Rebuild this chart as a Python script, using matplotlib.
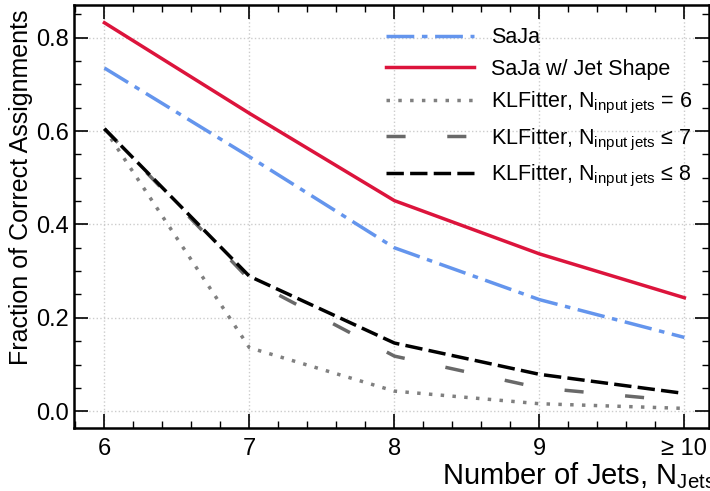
import matplotlib
matplotlib.use('Agg')
import matplotlib.pyplot as plt
from matplotlib.ticker import MultipleLocator

# data
n_jets = [6, 7, 8, 9, 10]
x_labels = ['6', '7', '8', '9', '≥ 10']
saja = [0.735, 0.545, 0.350, 0.239, 0.158]
saja_shape = [0.832, 0.638, 0.451, 0.337, 0.243]
kl_eq6 = [0.605, 0.136, 0.043, 0.016, 0.006]
kl_le7 = [0.605, 0.282, 0.118, 0.050, 0.021]
kl_le8 = [0.605, 0.289, 0.146, 0.079, 0.038]

plt.rcParams['font.family'] = ['Liberation Sans', 'DejaVu Sans']
plt.rcParams['mathtext.fontset'] = 'custom'
plt.rcParams['mathtext.rm'] = 'Liberation Sans'
plt.rcParams['mathtext.it'] = 'Liberation Sans:italic'
plt.rcParams['font.size'] = 17

fig = plt.figure(figsize=(7.1, 4.91), dpi=100)
ax = fig.add_axes([0.1042, 0.1283, 0.8944, 0.8615])

lw = 2.5
ax.plot(n_jets, saja, color='#6495ED', lw=lw, dashes=(8, 2.2, 1.6, 2.2), label='SaJa')
ax.plot(n_jets, saja_shape, color='#DC143C', lw=lw, label='SaJa w/ Jet Shape')
ax.plot(n_jets, kl_eq6, color='grey', lw=lw, dashes=(1, 2.4),
        label=r'KLFitter, N$_{\mathrm{input\ jets}}$ = 6')
ax.plot(n_jets, kl_le7, color='dimgrey', lw=lw, dashes=(5.5, 12),
        label=r'KLFitter, N$_{\mathrm{input\ jets}}$ ≤ 7')
ax.plot(n_jets, kl_le8, color='black', lw=lw, dashes=(5, 1.8),
        label=r'KLFitter, N$_{\mathrm{input\ jets}}$ ≤ 8')

ax.set_xlim(5.79, 10.17)
ax.set_ylim(-0.036, 0.87)
ax.set_xticks(n_jets)
ax.set_xticklabels(x_labels)
ax.xaxis.set_minor_locator(MultipleLocator(0.2))
ax.yaxis.set_major_locator(MultipleLocator(0.2))
ax.yaxis.set_minor_locator(MultipleLocator(0.05))
ax.yaxis.set_major_formatter(matplotlib.ticker.FormatStrFormatter('%.1f'))
ax.tick_params(which='both', direction='in', top=True, right=True, labelsize=17)
ax.tick_params(which='major', length=10, width=1.2)
ax.tick_params(which='minor', length=5, width=1.0)
ax.tick_params(axis='x', pad=7)
for s in ax.spines.values():
    s.set_linewidth(1.8)
ax.grid(True, which='major', ls=':', color='#cccccc', lw=1)

ax.set_xlabel(r'Number of Jets, N$_{\mathrm{Jets}}$', fontsize=21, ha='right', x=1.01,
              labelpad=0)
ax.set_ylabel('Fraction of Correct Assignments', fontsize=18, ha='right', y=0.99,
              labelpad=2)

ax.legend(loc='upper right', frameon=False, fontsize=15.5, handlelength=4.1,
          handletextpad=0.8, labelspacing=0.48, bbox_to_anchor=(1.005, 0.993))

fig.savefig('out.png', dpi=100)
